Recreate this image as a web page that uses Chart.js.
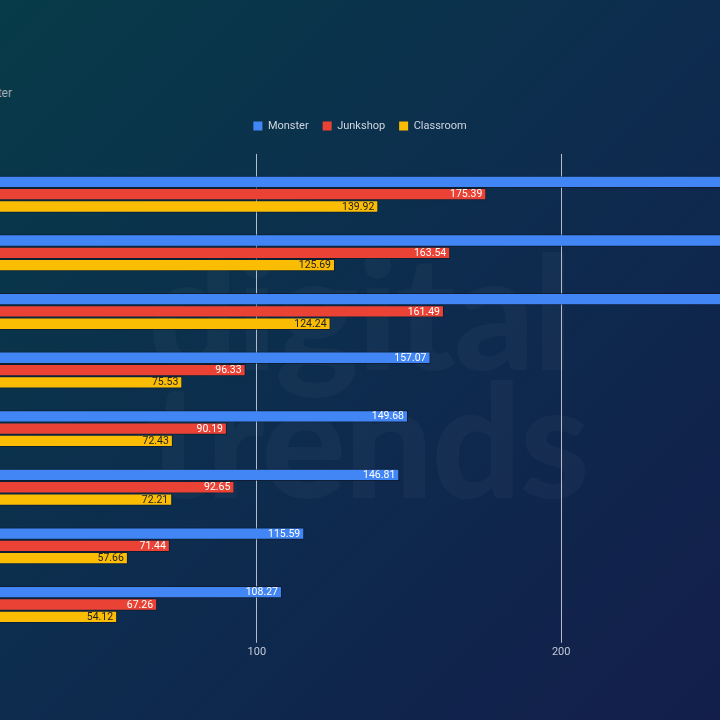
<!DOCTYPE html>
<html>
<head>
<meta charset="utf-8">
<script src="https://cdn.jsdelivr.net/npm/chart.js@4/dist/chart.umd.min.js"></script>
<style>
  html, body { margin: 0; padding: 0; }
  body {
    width: 720px; height: 720px; overflow: hidden; position: relative;
    background: linear-gradient(to bottom right, #073b48 0%, #0d2c4e 50%, #131e4a 100%);
    font-family: Roboto, "Noto Sans", sans-serif;
  }
  .mark {
    position: absolute; left: 148px; font-family: Lato, sans-serif; font-weight: 900;
    font-size: 158px; line-height: 1; color: rgba(255,255,255,0.03); letter-spacing: -2px;
  }
  #sub {
    position: absolute; top: 86px; right: 708px; white-space: nowrap;
    font-size: 12px; color: #a3adb8;
  }
  #wrap { position: absolute; left: -200px; top: 0; width: 1120px; height: 720px; }
</style>
</head>
<body>
<div class="mark" style="top:230px">digital</div>
<div class="mark" style="top:358px">trends</div>
<div id="sub">Higher is better</div>
<div id="wrap"><canvas id="chart"></canvas></div>
<script>
const categories = [
  "Intel Core i9-14900K", "Intel Core i9-13900K", "AMD Ryzen 9 7950X",
  "Intel Core i5-14600K", "Intel Core i5-13600K", "AMD Ryzen 7 7700X",
  "AMD Ryzen 7 7800X3D", "AMD Ryzen 5 7600X"
];
const monster = [286.41, 275.12, 271.48, 157.07, 149.68, 146.81, 115.59, 108.27];
const junkshop = [175.39, 163.54, 161.49, 96.33, 90.19, 92.65, 71.44, 67.26];
const classroom = [139.92, 125.69, 124.24, 75.53, 72.43, 72.21, 57.66, 54.12];
const xTicks = [0, 100, 200, 300];

const labelColors = ["#ffffff", "#ffffff", "#202124"];

// values written at the end of each bar
const barLabels = {
  id: "barLabels",
  afterDatasetsDraw(chart) {
    const ctx = chart.ctx;
    ctx.save();
    ctx.font = "10.5px Roboto";
    ctx.textAlign = "right";
    ctx.textBaseline = "middle";
    chart.data.datasets.forEach((ds, i) => {
      chart.getDatasetMeta(i).data.forEach((bar, j) => {
        ctx.fillStyle = labelColors[i];
        ctx.fillText(ds.data[j].toFixed(2), bar.x - 4, bar.y + 0.5);
      });
    });
    ctx.restore();
  }
};

const gridColor = "#b4bccc";

new Chart(document.getElementById("chart"), {
  type: "bar",
  data: {
    labels: categories,
    datasets: [
      { label: "Monster", data: monster, backgroundColor: "#4285f4" },
      { label: "Junkshop", data: junkshop, backgroundColor: "#ea4335" },
      { label: "Classroom", data: classroom, backgroundColor: "#fbbc04" }
    ]
  },
  options: {
    indexAxis: "y",
    responsive: true,
    maintainAspectRatio: false,
    animation: false,
    layout: { padding: { top: 106.5, bottom: 56.2, left: 54.4, right: 54.4 } },
    datasets: {
      bar: {
        barPercentage: 1,
        categoryPercentage: 0.63,
        borderWidth: 1,
        borderColor: "rgba(15,20,35,0.6)",
        borderSkipped: false
      }
    },
    scales: {
      x: {
        min: 0, max: 300,
        afterBuildTicks: s => { s.ticks = xTicks.map(v => ({ value: v })); },
        afterFit: s => { s.height = 30; },
        grid: { color: gridColor, tickLength: 9 },
        border: { display: false },
        ticks: { color: "#c3cad8", font: { size: 11, family: "Roboto" }, padding: 3 }
      },
      x2: {
        position: "top", axis: "x", min: 0, max: 300,
        afterBuildTicks: s => { s.ticks = xTicks.map(v => ({ value: v })); },
        afterFit: s => { s.height = 23.4; },
        grid: { color: gridColor, tickLength: 11, drawOnChartArea: false },
        border: { display: false },
        ticks: { display: false }
      },
      y: {
        afterFit: s => { s.width = 98; },
        grid: { display: false },
        border: { display: false },
        ticks: { color: "#c3cad8", font: { size: 11, family: "Roboto" } }
      }
    },
    plugins: {
      legend: {
        position: "top",
        labels: {
          boxWidth: 9, boxHeight: 9, padding: 14,
          color: "#d0d5df", font: { size: 11, family: "Roboto" },
          generateLabels: chart => Chart.defaults.plugins.legend.labels.generateLabels(chart)
            .map(l => ({ ...l, lineWidth: 0 }))
        }
      },
      tooltip: { enabled: false }
    }
  },
  plugins: [barLabels]
});
</script>
</body>
</html>
